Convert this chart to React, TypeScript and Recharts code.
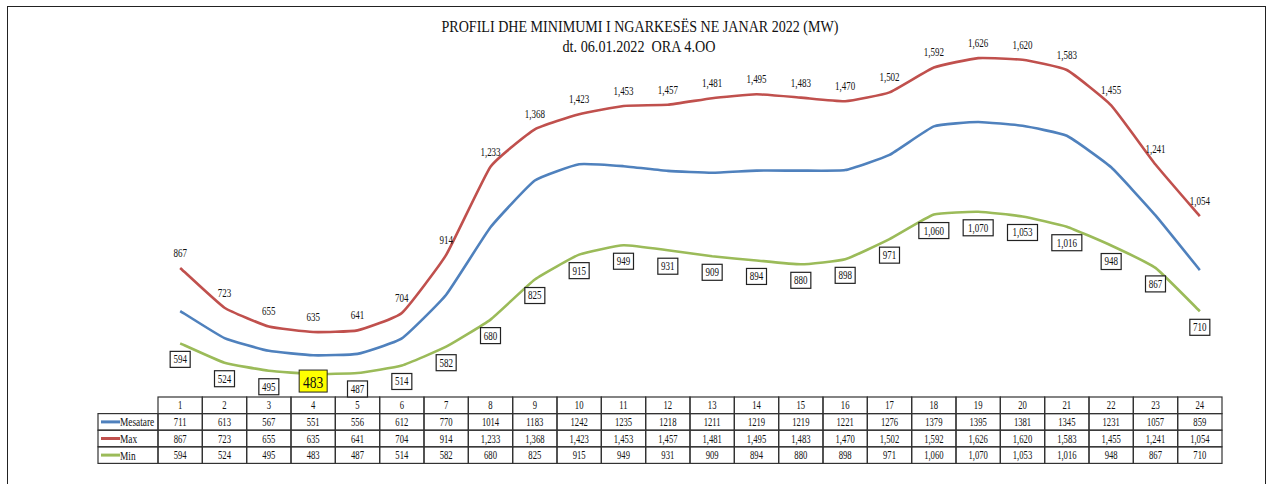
import { LineChart, Line, XAxis, YAxis } from "recharts";

const hours = ["1", "2", "3", "4", "5", "6", "7", "8", "9", "10", "11", "12", "13", "14", "15", "16", "17", "18", "19", "20", "21", "22", "23", "24"];
const mesatare = [711, 613, 567, 551, 556, 612, 770, 1014, 1183, 1242, 1235, 1218, 1211, 1219, 1219, 1221, 1276, 1379, 1395, 1381, 1345, 1231, 1057, 859];
const maxLoad = [867, 723, 655, 635, 641, 704, 914, 1233, 1368, 1423, 1453, 1457, 1481, 1495, 1483, 1470, 1502, 1592, 1626, 1620, 1583, 1455, 1241, 1054];
const minLoad = [594, 524, 495, 483, 487, 514, 582, 680, 825, 915, 949, 931, 909, 894, 880, 898, 971, 1060, 1070, 1053, 1016, 948, 867, 710];

const title = "PROFILI DHE MINIMUMI I NGARKESËS NE JANAR 2022 (MW)";
const subtitle = "dt. 06.01.2022  ORA 4.OO";

const BLUE = "#4F81BD";
const RED = "#C0504D";
const GREEN = "#9BBB59";
const FONT = "'Liberation Serif', 'Times New Roman', serif";

const data = hours.map((h, i) => ({
  hour: h,
  mesatare: mesatare[i],
  max: maxLoad[i],
  min: minLoad[i],
}));

const fmt = (v: number) => v.toLocaleString("en-US");
const lowest = Math.min(...minLoad);

const W = 1273;
const H = 484;
const PLOT_LEFT = 158;
const PLOT_RIGHT = 1222;
const CELL_W = (PLOT_RIGHT - PLOT_LEFT) / hours.length;
const ROW_H = 16.6;
const LEGEND_W = 60;

const rows = [
  { name: "Mesatare", color: BLUE, values: mesatare, format: (v: number) => String(v) },
  { name: "Max", color: RED, values: maxLoad, format: fmt },
  { name: "Min", color: GREEN, values: minLoad, format: fmt },
];

// light excel-like smoothing (cardinal spline)
function excelSmooth(tension: number) {
  return (context: any) => {
    let pts: number[][] = [];
    return {
      areaStart() {},
      areaEnd() {},
      lineStart() {
        pts = [];
      },
      point(x: number, y: number) {
        pts.push([+x, +y]);
      },
      lineEnd() {
        if (!pts.length) return;
        const k = (1 - tension) / 6;
        context.moveTo(pts[0][0], pts[0][1]);
        for (let i = 0; i < pts.length - 1; i++) {
          const p0 = pts[i - 1] || pts[i];
          const p1 = pts[i];
          const p2 = pts[i + 1];
          const p3 = pts[i + 2] || p2;
          context.bezierCurveTo(
            p1[0] + (p2[0] - p0[0]) * k,
            p1[1] + (p2[1] - p0[1]) * k,
            p2[0] - (p3[0] - p1[0]) * k,
            p2[1] - (p3[1] - p1[1]) * k,
            p2[0],
            p2[1]
          );
        }
      },
    };
  };
}
const curve = excelSmooth(0.6);

function Narrow({ x, y, children, size = 12, anchor = "middle", sx = 0.72 }: any) {
  return (
    <text
      transform={`translate(${x},${y}) scale(${sx},1)`}
      textAnchor={anchor}
      dominantBaseline="central"
      fontFamily={FONT}
      fontSize={size}
      fill="#111"
    >
      {children}
    </text>
  );
}

// one column of the data table under each hour
function TableTick(props: any) {
  const { x, y, payload, index } = props;
  const left = x - CELL_W / 2;
  const cells = [];
  cells.push(
    <g key="h">
      <rect x={left} y={y} width={CELL_W} height={ROW_H} fill="none" stroke="#333" strokeWidth={1.2} />
      <Narrow x={x} y={y + ROW_H / 2}>{payload.value}</Narrow>
    </g>
  );
  rows.forEach((r, ri) => {
    const top = y + ROW_H * (ri + 1);
    cells.push(
      <g key={r.name}>
        <rect x={left} y={top} width={CELL_W} height={ROW_H} fill="none" stroke="#333" strokeWidth={1.2} />
        <Narrow x={x} y={top + ROW_H / 2}>{r.format(r.values[index])}</Narrow>
      </g>
    );
    if (index === 0) {
      const lx = left - LEGEND_W;
      cells.push(
        <g key={r.name + "-legend"}>
          <rect x={lx} y={top} width={LEGEND_W} height={ROW_H} fill="none" stroke="#333" strokeWidth={1.2} />
          <line x1={lx + 3} x2={lx + 22} y1={top + ROW_H / 2} y2={top + ROW_H / 2} stroke={r.color} strokeWidth={3} />
          <Narrow x={lx + 22} y={top + ROW_H / 2} anchor="start" sx={0.78}>{r.name}</Narrow>
        </g>
      );
    }
  });
  return <g>{cells}</g>;
}

function MaxLabel(props: any) {
  const { x, y, value } = props;
  return <Narrow x={x} y={y - 15} size={12} sx={0.75}>{fmt(value)}</Narrow>;
}

function MinLabel(props: any) {
  const { x, y, value } = props;
  if (value === lowest) {
    return (
      <g>
        <rect x={x - 14} y={y - 4} width={28} height={22} fill="#FFFF00" stroke="#222" strokeWidth={1} />
        <Narrow x={x} y={y + 7.5} size={17} sx={0.8}>{fmt(value)}</Narrow>
      </g>
    );
  }
  const label = fmt(value);
  const bw = label.length * 5 + 5;
  return (
    <g>
      <rect x={x - bw / 2} y={y + 8} width={bw} height={16} fill="#fff" stroke="#222" strokeWidth={1.2} />
      <Narrow x={x} y={y + 16} size={12} sx={0.75}>{label}</Narrow>
    </g>
  );
}

export default function App() {
  return (
    <div style={{ position: "fixed", left: 0, top: 0, width: W, height: H, background: "#fff", overflow: "hidden" }}>
      <div
        style={{
          position: "absolute",
          left: 7,
          top: 6,
          width: 1259,
          height: 490,
          border: "1.5px solid #222",
          boxSizing: "border-box",
        }}
      />
      <svg style={{ position: "absolute", left: 0, top: 0 }} width={W} height={70}>
        <text x={640} y={32} textAnchor="middle" fontFamily={FONT} fontSize={17} fill="#111" textLength={397} lengthAdjust="spacingAndGlyphs">
          {title}
        </text>
        <text x={639} y={52} textAnchor="middle" fontFamily={FONT} fontSize={17} fill="#111" textLength={153} lengthAdjust="spacingAndGlyphs" style={{ whiteSpace: "pre" }}>
          {subtitle}
        </text>
      </svg>
      <div style={{ position: "absolute", left: 0, top: 0 }}>
        <LineChart width={W} height={H} data={data} margin={{ top: 10, right: W - PLOT_RIGHT, left: PLOT_LEFT, bottom: 17 }}>
          <YAxis hide domain={[400, 1800]} />
          <XAxis
            dataKey="hour"
            height={70}
            axisLine={false}
            tickLine={false}
            tickSize={0}
            tickMargin={0}
            interval={0}
            padding={{ left: CELL_W / 2, right: CELL_W / 2 }}
            tick={<TableTick />}
          />
          <Line dataKey="max" type={curve as any} stroke={RED} strokeWidth={2.6} dot={false} isAnimationActive={false} label={<MaxLabel />} />
          <Line dataKey="mesatare" type={curve as any} stroke={BLUE} strokeWidth={2.6} dot={false} isAnimationActive={false} />
          <Line dataKey="min" type={curve as any} stroke={GREEN} strokeWidth={2.6} dot={false} isAnimationActive={false} label={<MinLabel />} />
        </LineChart>
      </div>
    </div>
  );
}
